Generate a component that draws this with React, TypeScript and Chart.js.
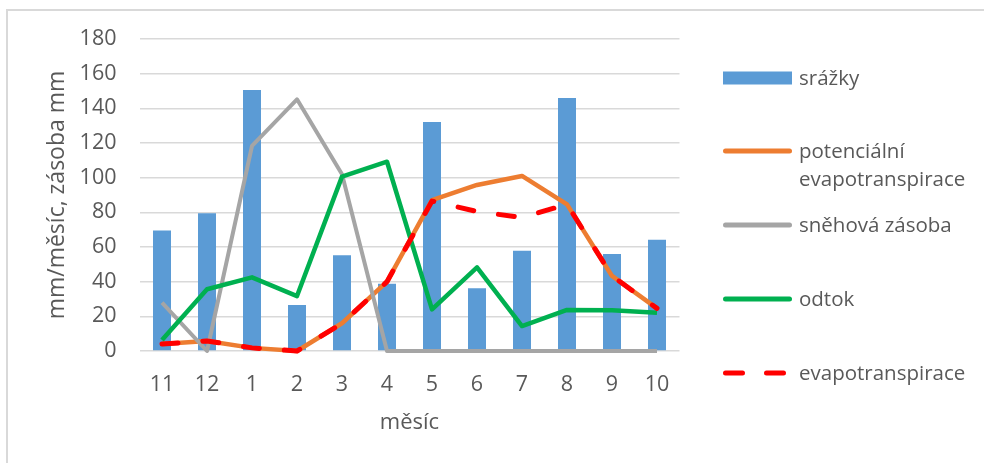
import { useEffect, useRef } from "react";
import { Chart, registerables } from "chart.js";

Chart.register(...registerables);

const months = ["11", "12", "1", "2", "3", "4", "5", "6", "7", "8", "9", "10"];
const srazky = [69.5, 79.5, 150.6, 26.5, 55.2, 38.8, 132.1, 36.2, 57.9, 146, 56, 64.2];
const potencialniEvapotranspirace = [4, 5.8, 1.8, 0, 16, 40, 87, 95.8, 101, 84.6, 43.3, 24.6];
const snehovaZasoba = [27.9, 0, 118.3, 145.2, 102, 0, 0, 0, 0, 0, 0, 0];
const odtok = [6.3, 35.6, 42.5, 31.7, 100.6, 109.2, 24, 48.3, 14.4, 23.7, 23.5, 22.1];
const evapotranspirace = [4, 5.8, 1.8, 0, 16, 40, 86.5, 80.5, 77, 84.6, 43.3, 24.6];
const yTicks = [0, 20, 40, 60, 80, 100, 120, 140, 160, 180];

const seriesLabels = ["srážky", "potenciální evapotranspirace", "sněhová zásoba", "odtok", "evapotranspirace"];
const xTitle = "měsíc";
const yTitle = "mm/měsíc, zásoba mm";

const FONT = "'Open Sans', 'Noto Sans', sans-serif";
const TEXT = "#595959";
const C_BAR = "#5B9BD5";
const C_ORANGE = "#ED7D31";
const C_GRAY = "#A5A5A5";
const C_GREEN = "#00B050";
const C_RED = "#FF0000";

const legendRows = [78, 151, 225, 299, 373];

const framePlugin = {
  id: "frame",
  beforeDraw(chart: any) {
    const ctx = chart.ctx;
    ctx.save();
    ctx.fillStyle = "#FFFFFF";
    ctx.fillRect(0, 0, chart.width, chart.height);
    ctx.strokeStyle = "#D9D9D9";
    ctx.lineWidth = 2;
    ctx.beginPath();
    ctx.moveTo(7, chart.height);
    ctx.lineTo(7, 10);
    ctx.lineTo(chart.width, 10);
    ctx.stroke();
    ctx.restore();
  },
};

const legendPlugin = {
  id: "customLegend",
  afterDraw(chart: any) {
    const ctx = chart.ctx;
    const x0 = 723;
    const x1 = 792;
    const tx = 799;
    ctx.save();
    ctx.font = `20.5px ${FONT}`;
    ctx.fillStyle = TEXT;
    ctx.textBaseline = "middle";
    ctx.textAlign = "left";
    chart.data.datasets.forEach((ds: any, i: number) => {
      const y = legendRows[i];
      ctx.save();
      if (ds.type === "line") {
        ctx.strokeStyle = ds.borderColor;
        ctx.lineWidth = 5;
        ctx.lineCap = "round";
        if (ds.borderDash && ds.borderDash.length) ctx.setLineDash([17, 24]);
        ctx.beginPath();
        ctx.moveTo(x0 + 2.5, y);
        ctx.lineTo(x1 - 2.5, y);
        ctx.stroke();
      } else {
        ctx.fillStyle = ds.backgroundColor;
        ctx.fillRect(x0, y - 6.5, x1 - x0, 13);
      }
      ctx.restore();
      const words = String(ds.label).split(" ");
      const lines: string[] = [];
      let cur = "";
      words.forEach((w) => {
        const test = cur ? cur + " " + w : w;
        if (cur && ctx.measureText(test).width > 175) {
          lines.push(cur);
          cur = w;
        } else cur = test;
      });
      if (cur) lines.push(cur);
      lines.forEach((ln, k) => ctx.fillText(ln, tx, y + 1 + k * 28));
    });
    ctx.restore();
  },
};

export default function App() {
  const ref = useRef<HTMLCanvasElement>(null);
  useEffect(() => {
    const lineBase = {
      type: "line",
      pointRadius: 0,
      tension: 0,
      borderJoinStyle: "round",
      clip: false,
    };
    const chart = new Chart(ref.current as HTMLCanvasElement, {
      type: "bar",
      data: {
        labels: months,
        datasets: [
          {
            type: "bar",
            label: seriesLabels[0],
            data: srazky,
            backgroundColor: C_BAR,
            borderWidth: 0,
            barPercentage: 0.4,
            categoryPercentage: 1,
            order: 5,
          },
          {
            ...lineBase,
            label: seriesLabels[1],
            data: potencialniEvapotranspirace,
            borderColor: C_ORANGE,
            backgroundColor: C_ORANGE,
            borderWidth: 4.5,
            order: 4,
          },
          {
            ...lineBase,
            label: seriesLabels[2],
            data: snehovaZasoba,
            borderColor: C_GRAY,
            backgroundColor: C_GRAY,
            borderWidth: 4,
            order: 3,
          },
          {
            ...lineBase,
            label: seriesLabels[3],
            data: odtok,
            borderColor: C_GREEN,
            backgroundColor: C_GREEN,
            borderWidth: 4.5,
            order: 2,
          },
          {
            ...lineBase,
            label: seriesLabels[4],
            data: evapotranspirace,
            borderColor: C_RED,
            backgroundColor: C_RED,
            borderWidth: 5,
            borderDash: [16, 25],
            borderCapStyle: "round",
            order: 1,
          },
        ] as any,
      },
      options: {
        animation: false,
        responsive: true,
        maintainAspectRatio: false,
        devicePixelRatio: 1,
        events: [],
        layout: { padding: { left: 0, right: 304.5, top: 39, bottom: 0 } },
        plugins: {
          legend: { display: false },
          tooltip: { enabled: false },
        },
        scales: {
          x: {
            type: "category",
            offset: true,
            grid: { display: false },
            border: { display: false },
            ticks: {
              color: TEXT,
              font: { family: FONT, size: 21.5 },
              padding: 13,
              maxRotation: 0,
              autoSkip: false,
            },
            title: {
              display: true,
              text: xTitle,
              color: TEXT,
              font: { family: FONT, size: 22 },
              padding: { top: 0, bottom: 27 },
            },
            afterFit: (s: any) => {
              s.height = 112;
            },
          },
          y: {
            min: 0,
            max: 180,
            afterBuildTicks: (s: any) => {
              s.ticks = yTicks.map((v) => ({ value: v }));
            },
            grid: { color: "#D9D9D9", lineWidth: 1.5, drawTicks: false },
            border: { display: false },
            ticks: {
              color: TEXT,
              font: { family: FONT, size: 21.5 },
              padding: 23,
            },
            title: {
              display: true,
              text: yTitle,
              color: TEXT,
              font: { family: FONT, size: 23 },
              padding: { top: 44, bottom: 0 },
            },
            afterFit: (s: any) => {
              s.width = 139.5;
            },
          },
        },
      } as any,
      plugins: [framePlugin, legendPlugin],
    });
    return () => chart.destroy();
  }, []);
  return (
    <div style={{ position: "absolute", left: 0, top: 0, width: 984, height: 463 }}>
      <canvas ref={ref} />
    </div>
  );
}
